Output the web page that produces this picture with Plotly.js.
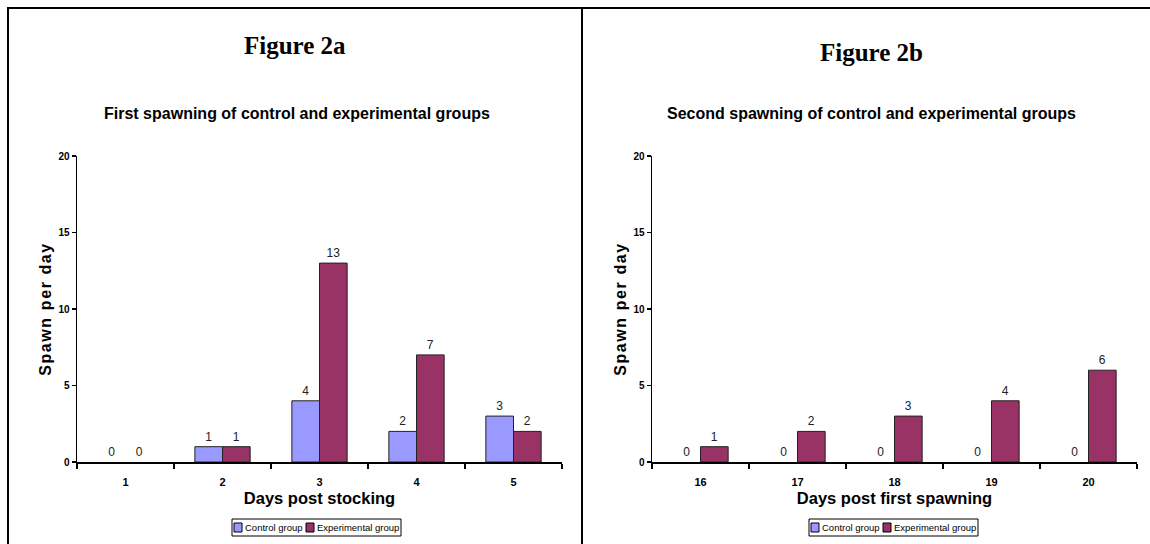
<!DOCTYPE html>
<html>
<head>
<meta charset="utf-8">
<script src="https://cdn.plot.ly/plotly-3.0.1.min.js"></script>
<style>
html,body{margin:0;padding:0;background:#fff;}
#chart{width:1150px;height:544px;}
.ytitle, .y2title{letter-spacing:1.6px;}
</style>
</head>
<body>
<div id="chart"></div>
<script>
// ---- data ----
var daysA = ['1', '2', '3', '4', '5'];
var controlA = [0, 1, 4, 2, 3];
var experimentalA = [0, 1, 13, 7, 2];

var daysB = ['16', '17', '18', '19', '20'];
var controlB = [0, 0, 0, 0, 0];
var experimentalB = [1, 2, 3, 4, 6];

var seriesNames = ['Control group', 'Experimental group'];
var seriesColors = ['#9999FF', '#993366'];

var SANS = '"Liberation Sans", Arial, sans-serif';
var SERIF = '"Liberation Serif", "Times New Roman", serif';

function barTrace(x, y, idx, xa, ya) {
  return {
    type: 'bar', x: x, y: y, name: seriesNames[idx], xaxis: xa, yaxis: ya,
    marker: {color: seriesColors[idx],
             line: {color: '#222', width: y.map(function (v) { return v > 0 ? 1 : 0; })}},
    texttemplate: '%{y}', textposition: 'outside', cliponaxis: false,
    textfont: {family: SANS, size: 12, color: '#222'},
    showlegend: false, hoverinfo: 'x+y+name'
  };
}

var data = [
  barTrace(daysA, controlA, 0, 'x', 'y'),
  barTrace(daysA, experimentalA, 1, 'x', 'y'),
  barTrace(daysB, controlB, 0, 'x2', 'y2'),
  barTrace(daysB, experimentalB, 1, 'x2', 'y2')
];

var W = 1150, H = 544;
function px(x) { return x / W; }
function py(y) { return (H - y) / H; }

function xAxis(domain, title, anchor) {
  return {
    domain: domain, type: 'category', anchor: anchor, showline: true, linecolor: '#000', linewidth: 2,
    ticks: 'outside', tickson: 'boundaries', ticklen: 5, tickwidth: 1.5, tickcolor: '#000',
    ticklabelstandoff: 9,
    showgrid: false, zeroline: false, fixedrange: true,
    tickfont: {family: SANS, size: 11, color: '#000', weight: 'bold'},
    title: {text: title, standoff: 5, font: {family: SANS, size: 16.5, color: '#000', weight: 'bold'}}
  };
}
function yAxis(anchor) {
  return {
    domain: [py(462), py(156)], range: [0, 20], dtick: 5, anchor: anchor,
    showline: true, linecolor: '#000', linewidth: 1.5,
    ticks: 'outside', ticklen: 4, tickwidth: 1.5, tickcolor: '#000',
    showgrid: false, zeroline: false, fixedrange: true,
    tickfont: {family: SANS, size: 10, color: '#000', weight: 'bold'},
    title: {text: 'Spawn per day', standoff: 3, font: {family: SANS, size: 16, color: '#000', weight: 'bold'}}
  };
}

var shapes = [
  {type: 'line', xref: 'paper', yref: 'paper', x0: px(7), x1: 1, y0: py(8), y1: py(8), line: {color: '#000', width: 2}},
  {type: 'line', xref: 'paper', yref: 'paper', x0: px(8), x1: px(8), y0: py(8), y1: 0, line: {color: '#000', width: 2}},
  {type: 'line', xref: 'paper', yref: 'paper', x0: px(582), x1: px(582), y0: py(8), y1: 0, line: {color: '#000', width: 2}}
];
var annotations = [
  {text: 'Figure 2a', x: px(295), y: py(45), xref: 'paper', yref: 'paper', showarrow: false, xanchor: 'center', yanchor: 'middle',
   font: {family: SERIF, size: 25, color: '#000', weight: 'bold'}},
  {text: 'Figure 2b', x: px(871), y: py(53), xref: 'paper', yref: 'paper', showarrow: false, xanchor: 'center', yanchor: 'middle',
   font: {family: SERIF, size: 25, color: '#000', weight: 'bold'}},
  {text: 'First spawning of control and experimental groups', x: px(297), y: py(113), xref: 'paper', yref: 'paper',
   showarrow: false, xanchor: 'center', yanchor: 'middle', font: {family: SANS, size: 16, color: '#000', weight: 'bold'}},
  {text: 'Second spawning of control and experimental groups', x: px(871), y: py(113), xref: 'paper', yref: 'paper',
   showarrow: false, xanchor: 'center', yanchor: 'middle', font: {family: SANS, size: 16, color: '#000', weight: 'bold'}}
];

// compact legend boxes (as in the original spreadsheet chart)
function addLegend(left) {
  shapes.push({type: 'rect', xref: 'paper', yref: 'paper', x0: px(left), x1: px(left + 169), y0: py(536), y1: py(519),
               line: {color: '#000', width: 1}, fillcolor: '#fff'});
  var sq = [left + 2, left + 74];
  var tx = [left + 11, left + 83];
  for (var i = 0; i < 2; i++) {
    shapes.push({type: 'rect', xref: 'paper', yref: 'paper', x0: px(sq[i]), x1: px(sq[i] + 8), y0: py(532), y1: py(523),
                 line: {color: '#000', width: 1}, fillcolor: seriesColors[i]});
    annotations.push({text: seriesNames[i], x: px(tx[i]), y: py(527.5), xref: 'paper', yref: 'paper', showarrow: false,
                      xanchor: 'left', yanchor: 'middle', font: {family: SANS, size: 9.5, color: '#000'}});
  }
}
addLegend(232);
addLegend(809);

var layout = {
  width: W, height: H, margin: {l: 0, r: 0, t: 0, b: 0},
  paper_bgcolor: '#fff', plot_bgcolor: 'rgba(0,0,0,0)',
  barmode: 'group', bargap: 0.43, bargroupgap: 0,
  showlegend: false,
  xaxis: xAxis([px(77), px(562)], 'Days post stocking', 'y'),
  yaxis: yAxis('x'),
  xaxis2: xAxis([px(652), px(1137)], 'Days post first spawning', 'y2'),
  yaxis2: yAxis('x2'),
  shapes: shapes, annotations: annotations
};

Plotly.newPlot('chart', data, layout, {displayModeBar: false, staticPlot: true});
</script>
</body>
</html>
